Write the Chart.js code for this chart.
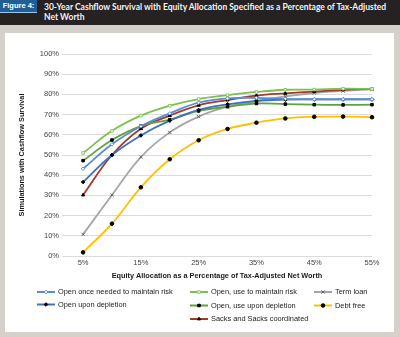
<!DOCTYPE html>
<html>
<head>
<meta charset="utf-8">
<script src="https://cdn.jsdelivr.net/npm/chart.js@4/dist/chart.umd.min.js"></script>
<style>
  html, body { margin: 0; padding: 0; }
  body { width: 400px; height: 337px; background: #d5d1ca; position: relative; overflow: hidden; font-family: "Liberation Sans", Arial, sans-serif; }
  #head { position: absolute; left: 0; top: 0; width: 400px; height: 25px; background: #262223; }
  #fig { position: absolute; left: 0; top: 0; width: 37px; height: 12px; background: #1f5f96; border-bottom: 1px solid #9fc3e0;
         color: #fff; font: bold 7.5px "Liberation Sans", Arial, sans-serif; line-height: 12px; text-align: center; }
  #title { position: absolute; left: 44px; top: 2px; width: 350px; color: #f4f4f4; font: bold 8.5px Lato, sans-serif; line-height: 10px; }
  #panel { position: absolute; left: 5px; top: 33px; width: 389px; height: 299px; background: #fff; }
  canvas { display: block; }
</style>
</head>
<body>
<div id="head"></div>
<div id="fig">Figure 4:</div>
<div id="title">30-Year Cashflow Survival with Equity Allocation Specified as a Percentage of Tax-Adjusted Net Worth</div>
<div id="panel"><canvas id="c" width="389" height="299"></canvas></div>
<script>
// equity allocation (% of tax-adjusted net worth)
const equityPct = [5, 10, 15, 20, 25, 30, 35, 40, 45, 50, 55];
const xTickValues = [5, 15, 25, 35, 45, 55];

// % of simulations with cashflow survival
const openOnceNeeded   = [43.2, 55.3, 64.2, 70.6, 75.9, 78.0, 78.3, 77.8, 77.6, 77.6, 77.6];
const openUponDepletion = [36.6, 50.0, 59.7, 67.0, 72.3, 75.1, 76.8, 77.4, 77.5, 77.5, 77.5];
const openUseMaintain  = [51.0, 62.0, 69.5, 74.4, 77.7, 79.6, 81.2, 82.3, 82.4, 82.8, 82.7];
const openUseDepletion = [47.2, 57.4, 64.3, 67.5, 71.8, 73.9, 75.5, 75.2, 74.9, 74.8, 74.9];
const sacksCoordinated = [30.2, 50.0, 63.0, 69.5, 74.6, 77.2, 79.4, 80.5, 81.4, 82.3, 82.7];
const termLoan         = [10.7, 30.2, 49.0, 61.2, 69.0, 73.9, 76.7, 79.0, 80.7, 81.7, 82.5];
const debtFree         = [1.8, 16.0, 34.0, 47.9, 57.3, 62.9, 66.0, 68.1, 68.9, 69.0, 68.7];

const FONT = '"Liberation Sans", Arial, sans-serif';

function series(label, values, colour, style, fill, stroke) {
  return {
    label: label,
    data: values.map((v, i) => ({ x: equityPct[i], y: v })),
    borderColor: colour,
    borderWidth: 1.8,
    tension: 0.4,
    clip: false,
    pointStyle: style,
    pointRadius: style === 'crossRot' ? 2.3 : 1.8,
    pointBackgroundColor: fill,
    pointBorderColor: stroke,
    pointBorderWidth: 1
  };
}

const datasets = [
  series('Open once needed to maintain risk', openOnceNeeded, '#5a8cd6', 'rectRot', '#ffffff', '#5a8cd6'),
  series('Open upon depletion', openUponDepletion, '#4270c0', 'rectRot', '#000000', '#000000'),
  series('Open, use to maintain risk', openUseMaintain, '#7cbf52', 'rect', '#ffffff', '#8cc866'),
  series('Open, use upon depletion', openUseDepletion, '#5ea23a', 'rect', '#000000', '#000000'),
  series('Sacks and Sacks coordinated', sacksCoordinated, '#a23a2a', 'triangle', '#000000', '#000000'),
  series('Term loan', termLoan, '#a6a6a6', 'crossRot', '#777777', '#666666'),
  series('Debt free', debtFree, '#ffc000', 'circle', '#000000', '#000000')
];

// legend slots: [dataset index, line start x, row y]
const legendSlots = [
  [0, 32, 259], [1, 32, 271.5],
  [2, 185, 259], [3, 185, 272.5], [4, 185, 286],
  [5, 309, 259], [6, 309, 272.5]
];

const legendPlugin = {
  id: 'colLegend',
  afterDraw(chart) {
    const ctx = chart.ctx;
    ctx.save();
    legendSlots.forEach(([i, x, y]) => {
      const ds = chart.data.datasets[i];
      ctx.strokeStyle = ds.borderColor;
      ctx.lineWidth = 2;
      ctx.beginPath();
      ctx.moveTo(x, y);
      ctx.lineTo(x + 18, y);
      ctx.stroke();
      ctx.fillStyle = ds.pointBackgroundColor;
      ctx.strokeStyle = ds.pointBorderColor;
      ctx.lineWidth = 1;
      Chart.helpers.drawPoint(ctx, { pointStyle: ds.pointStyle, radius: ds.pointRadius, rotation: 0, borderWidth: 1 }, x + 9, y);
      ctx.fillStyle = '#1a1a1a';
      ctx.font = '7.4px ' + FONT;
      ctx.textBaseline = 'middle';
      ctx.textAlign = 'left';
      ctx.fillText(ds.label, x + 21, y);
    });
    ctx.restore();
  }
};

new Chart(document.getElementById('c'), {
  type: 'line',
  data: { datasets: datasets },
  plugins: [legendPlugin],
  options: {
    responsive: false,
    animation: false,
    events: [],
    layout: { padding: { left: 0, right: 22, top: 21, bottom: 0 } },
    plugins: { legend: { display: false }, tooltip: { enabled: false } },
    scales: {
      x: {
        type: 'linear',
        min: 1.35,
        max: 55,
        grid: { display: false, drawTicks: false },
        border: { display: false },
        afterBuildTicks(scale) { scale.ticks = xTickValues.map(v => ({ value: v })); },
        afterFit(scale) { scale.height = 76; },
        ticks: { padding: 2, color: '#444', font: { family: FONT, size: 7.5 }, maxRotation: 0, callback: v => v + '%' },
        title: { display: true, text: 'Equity Allocation as a Percentage of Tax-Adjusted Net Worth',
                 color: '#1a1a1a', font: { family: FONT, size: 7.3, weight: 'bold' }, padding: { top: 0, bottom: 52 } }
      },
      y: {
        min: 0,
        max: 100,
        grid: { color: '#dcdcdc', lineWidth: 1, drawTicks: false },
        border: { display: false },
        afterFit(scale) { scale.width = 57; },
        ticks: { stepSize: 10, padding: 3, color: '#444', font: { family: FONT, size: 7.5 }, callback: v => v + '%' },
        title: { display: true, text: 'Simulations with Cashflow Survival',
                 color: '#1a1a1a', font: { family: FONT, size: 7.3, weight: 'bold' }, padding: { top: 13, bottom: 0 } }
      }
    }
  }
});
</script>
</body>
</html>
